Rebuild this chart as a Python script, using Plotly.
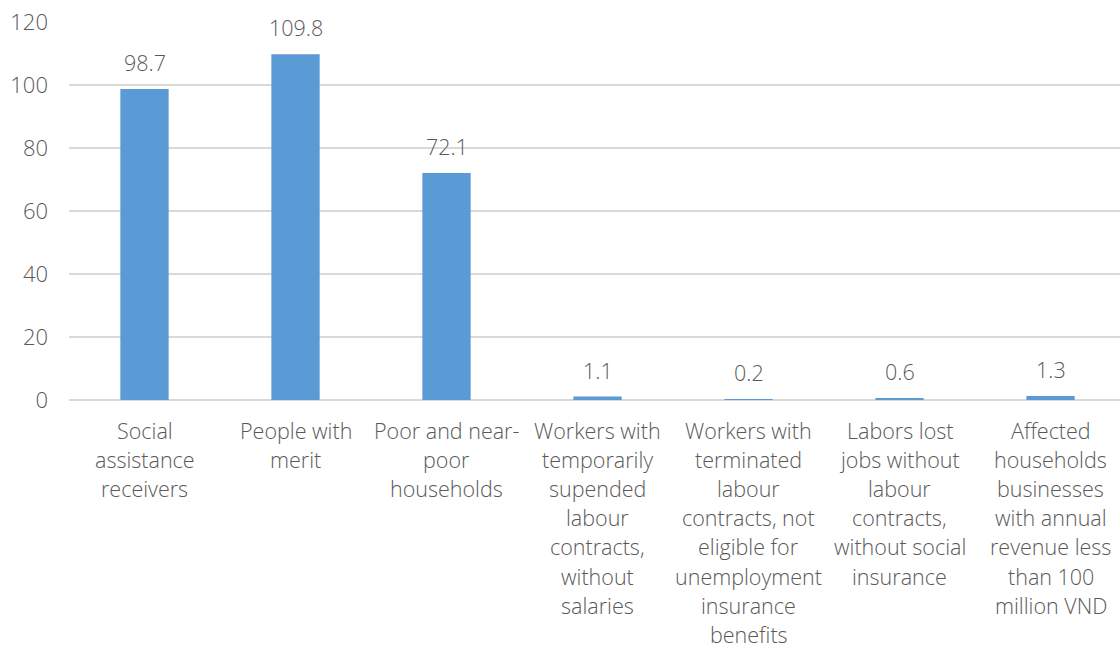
import plotly.graph_objects as go

# Beneficiary groups (each entry is the list of wrapped label lines)
categories = [
    ["Social", "assistance", "receivers"],
    ["People with", "merit"],
    ["Poor and near-", "poor", "households"],
    ["Workers with", "temporarily", "supended", "labour", "contracts,", "without", "salaries"],
    ["Workers with", "terminated", "labour", "contracts, not", "eligible for", "unemployment", "insurance", "benefits"],
    ["Labors lost", "jobs without", "labour", "contracts,", "without social", "insurance"],
    ["Affected", "households", "businesses", "with annual", "revenue less", "than 100", "million VND"],
]
values = [98.7, 109.8, 72.1, 1.1, 0.2, 0.6, 1.3]
y_ticks = [0, 20, 40, 60, 80, 100, 120]

FONT = "Open Sans, Segoe UI, Lato, sans-serif"
TEXT_COLOR = "#595959"
BAR_COLOR = "#5B9BD5"
GRID_COLOR = "#d9d9d9"
FONT_SIZE = 21.5

positions = list(range(len(values)))

fig = go.Figure(
    go.Bar(
        x=positions,
        y=values,
        marker=dict(color=BAR_COLOR, line=dict(width=0)),
        width=0.32,
        hoverinfo="skip",
    )
)

annotations = []
# value labels above each bar
for xi, v in zip(positions, values):
    annotations.append(dict(
        x=xi, y=v, xref="x", yref="y", text=f"{v}", showarrow=False,
        yanchor="bottom", yshift=10,
        font=dict(family=FONT, size=FONT_SIZE, color=TEXT_COLOR, weight=300),
    ))
# wrapped category labels under the axis
LINE_H = 29.2
for xi, lines in zip(positions, categories):
    for i, line in enumerate(lines):
        annotations.append(dict(
            x=xi, y=0, xref="x", yref="paper", text=line, showarrow=False,
            yanchor="middle", yshift=-(30 + i * LINE_H), borderpad=0,
            font=dict(family=FONT, size=FONT_SIZE, color=TEXT_COLOR, weight=300),
        ))

fig.update_layout(
    width=1120, height=649,
    margin=dict(l=69, r=0, t=22, b=249),
    paper_bgcolor="white", plot_bgcolor="white",
    showlegend=False,
    annotations=annotations,
    xaxis=dict(
        range=[-0.5, 6.46], showticklabels=False, showgrid=False,
        zeroline=False, showline=False, fixedrange=True,
    ),
    yaxis=dict(
        range=[0, 120], tickvals=y_ticks, showgrid=True, gridcolor=GRID_COLOR,
        gridwidth=1.5, zeroline=True, zerolinecolor=GRID_COLOR, zerolinewidth=1.5,
        showline=False, ticks="", ticklabelstandoff=20,
        tickfont=dict(family=FONT, size=22, color=TEXT_COLOR, weight=300),
        fixedrange=True,
    ),
    bargap=0.68,
)

fig.write_html("out.html", config={"displayModeBar": False})
